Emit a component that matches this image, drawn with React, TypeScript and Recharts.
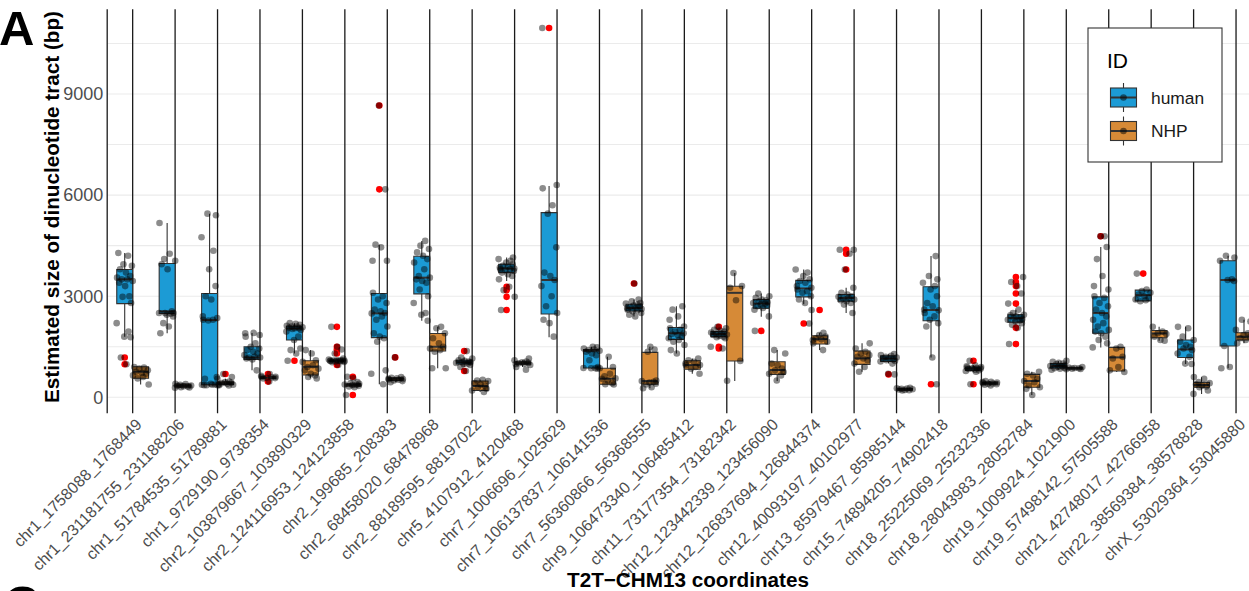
import { ComposedChart, XAxis, YAxis, CartesianGrid, Scatter, ReferenceArea, ReferenceLine } from "recharts";

// T2T-CHM13 loci, in plot order
const categories = [
  "chr1_1758088_1768449",
  "chr1_231181755_231188206",
  "chr1_51784535_51789881",
  "chr1_9729190_9738354",
  "chr2_103879667_103890329",
  "chr2_124116953_124123858",
  "chr2_199685_208383",
  "chr2_68458020_68478968",
  "chr2_88189595_88197022",
  "chr5_4107912_4120468",
  "chr7_1006696_1025629",
  "chr7_106137837_106141536",
  "chr7_56360866_56368555",
  "chr9_106473340_106485412",
  "chr11_73177354_73182342",
  "chr12_123442339_123456090",
  "chr12_126837694_126844374",
  "chr12_40093197_40102977",
  "chr13_85979467_85985144",
  "chr15_74894205_74902418",
  "chr18_25225069_25232336",
  "chr18_28043983_28052784",
  "chr19_1009924_1021900",
  "chr19_57498142_57505588",
  "chr21_42748017_42766958",
  "chr22_38569384_38578828",
  "chrX_53029364_53045880",
];

type Stats = [number, number, number, number, number] | null; // lower whisker, q1, median, q3, upper whisker

const humanStats: Stats[] = [
  [1800, 2780, 3500, 3790, 4280],
  [1900, 2490, 2550, 3970, 5170],
  [360, 370, 2290, 3080, 5450],
  [800, 1125, 1180, 1500, 1910],
  [1300, 1700, 2040, 2110, 2200],
  [1040, 1070, 1086, 1100, 1150],
  [385, 1770, 2490, 3080, 4530],
  [2270, 3070, 3550, 4185, 4640],
  [900, 990, 1040, 1100, 1180],
  [3450, 3700, 3820, 3950, 4150],
  [1780, 2470, 3480, 5480, 6270],
  [850, 870, 1380, 1420, 1500],
  [2400, 2560, 2650, 2760, 2900],
  [1300, 1720, 1900, 2070, 2700],
  [1750, 1800, 1880, 1950, 2050],
  [2390, 2640, 2780, 2900, 3080],
  [2760, 2980, 3230, 3470, 3790],
  [2500, 2850, 2950, 3050, 3250],
  [1000, 1060, 1150, 1230, 1280],
  [1180, 2270, 2590, 3280, 4190],
  [760, 800, 850, 900, 950],
  [2100, 2230, 2350, 2450, 2600],
  [820, 870, 930, 1000, 1080],
  [1480, 1900, 2500, 2980, 4460],
  [2850, 2860, 3030, 3180, 3200],
  [990, 1180, 1420, 1700, 2090],
  [860, 1520, 3480, 4050, 4200],
];

const nhpStats: Stats[] = [
  [380, 563, 760, 908, 910],
  [280, 300, 340, 390, 400],
  [350, 380, 420, 460, 550],
  [540, 560, 590, 610, 640],
  [563, 661, 908, 1086, 1400],
  [280, 330, 370, 400, 450],
  [450, 500, 550, 580, 600],
  [860, 1372, 1500, 1895, 2090],
  [160, 200, 335, 484, 520],
  [900, 980, 1010, 1050, 1100],
  null,
  [380, 385, 553, 860, 1200],
  [270, 385, 484, 1332, 1500],
  [700, 830, 957, 1086, 1150],
  [484, 1076, 3100, 3297, 3690],
  [484, 681, 810, 1056, 1400],
  [1400, 1580, 1727, 1826, 1915],
  [760, 977, 1155, 1372, 1600],
  [200, 210, 240, 260, 280],
  null,
  [350, 390, 420, 450, 480],
  [70, 296, 484, 681, 760],
  [830, 840, 860, 880, 900],
  [750, 780, 1184, 1480, 1500],
  [1680, 1767, 1895, 1984, 2090],
  [100, 296, 365, 444, 592],
  [1600, 1698, 1796, 1915, 2300],
];

const humanOutliers: number[][] = [
  [1180, 980], [], [], [], [1085], [2090, 1500, 1420, 1300, 960], [8660, 6170], [],
  [1370, 780], [3280, 3180, 2980, 2590], [10960], [], [3375], [], [2090, 1500, 1450],
  [1970], [2190], [4380, 4260, 3790], [680], [385], [1086, 385],
  [3570, 3420, 3300, 3080, 2780, 2060, 1580], [], [4780], [3670], [], [],
];

const nhpOutliers: number[][] = [
  [], [], [690], [690, 465], [], [610, 70], [1184], [], [], [], [], [], [], [], [],
  [], [2590], [], [], [], [], [], [], [], [], [], [],
];

const humanPoints: number[][] = [
  [4280, 4200, 3950, 3900, 3800, 3700, 3600, 3550, 3500, 3500, 3450, 3400, 3300, 3000, 2980, 2800, 2200, 1950, 1800, 1780, 1180, 980],
  [5170, 4260, 4100, 4050, 3950, 3800, 2550, 2500, 2500, 2500, 2480, 2450, 2400, 2200, 2100, 1900],
  [5450, 5400, 4750, 4350, 3800, 3300, 3000, 2900, 2400, 2350, 2300, 2300, 2280, 600, 550, 400, 380, 370, 370, 360, 360, 360],
  [1910, 1900, 1850, 1800, 1600, 1500, 1450, 1400, 1350, 1300, 1250, 1200, 1180, 1180, 1150, 1120, 800],
  [2200, 2180, 2150, 2120, 2100, 2100, 2080, 2060, 2050, 2050, 2030, 2000, 1950, 1800, 1700, 1450, 1400, 1300, 1085],
  [2090, 1500, 1420, 1300, 1150, 1120, 1100, 1100, 1090, 1090, 1086, 1086, 1080, 1080, 1070, 1060, 1050, 1040, 960],
  [8660, 6170, 4530, 4450, 4050, 4050, 3100, 3000, 2900, 2800, 2600, 2550, 2500, 2490, 2400, 2300, 2100, 1900, 1800, 1750, 1650, 800, 700, 385],
  [4640, 4500, 4400, 4300, 4200, 4100, 4000, 3800, 3600, 3550, 3500, 3450, 3400, 3200, 3000, 2800, 2500, 2450, 2270],
  [1370, 1180, 1150, 1100, 1080, 1060, 1040, 1040, 1020, 1000, 980, 960, 900, 780],
  [4150, 4100, 4050, 4000, 3950, 3900, 3880, 3850, 3820, 3800, 3800, 3780, 3750, 3700, 3650, 3600, 3500, 3280, 3180, 2980, 2590],
  [10960, 6300, 6200, 5700, 5450, 4450, 3700, 3600, 3480, 3300, 3000, 2700, 2500, 2300, 2200, 1800],
  [1500, 1480, 1450, 1420, 1400, 1380, 1350, 1300, 1250, 1100, 900, 870, 860, 860, 850],
  [3375, 2900, 2850, 2800, 2780, 2750, 2720, 2700, 2680, 2650, 2650, 2620, 2600, 2580, 2550, 2500, 2450, 2400],
  [2700, 2600, 2400, 2300, 2100, 2050, 2000, 1950, 1900, 1880, 1850, 1800, 1750, 1700, 1650, 1550, 1400, 1300],
  [2090, 2050, 2000, 1980, 1950, 1920, 1900, 1880, 1860, 1850, 1820, 1800, 1780, 1750, 1500, 1450],
  [3080, 3000, 2950, 2900, 2880, 2850, 2820, 2800, 2780, 2750, 2720, 2700, 2650, 2600, 2400, 1970],
  [3790, 3700, 3600, 3500, 3450, 3400, 3300, 3250, 3200, 3150, 3100, 3000, 2900, 2800, 2190],
  [4380, 4380, 4260, 3790, 3250, 3100, 3050, 3000, 2980, 2950, 2930, 2900, 2880, 2850, 2800, 2750, 2500],
  [1280, 1250, 1230, 1200, 1180, 1150, 1150, 1120, 1100, 1080, 1060, 1000, 700, 680],
  [4190, 3600, 3500, 3400, 3300, 3200, 3000, 2800, 2700, 2600, 2580, 2500, 2400, 2300, 2200, 2100, 1180, 385],
  [1086, 950, 920, 900, 880, 870, 860, 850, 840, 820, 800, 780, 760, 385],
  [3570, 3420, 3300, 3080, 2780, 2600, 2500, 2450, 2430, 2400, 2380, 2350, 2320, 2300, 2280, 2250, 2200, 2150, 2060, 1580],
  [1080, 1050, 1020, 1000, 980, 950, 930, 920, 900, 880, 860, 850, 820],
  [4780, 4780, 4460, 4100, 3600, 3300, 3200, 3000, 2950, 2800, 2700, 2600, 2500, 2400, 2300, 2200, 2100, 2000, 1950, 1900, 1800, 1700, 1600, 1480],
  [3670, 3200, 3150, 3100, 3050, 3000, 2950, 2900, 2880, 2850],
  [2090, 2050, 1800, 1700, 1650, 1550, 1500, 1450, 1400, 1300, 1200, 1000, 990],
  [4200, 4150, 4050, 3500, 3480, 3450, 1520, 900, 860],
];

const nhpPoints: number[][] = [
  [900, 880, 850, 800, 760, 720, 700, 650, 600, 560, 380],
  [400, 390, 370, 350, 340, 330, 320, 300, 290, 280],
  [690, 600, 550, 470, 450, 430, 420, 400, 380, 370, 360, 350],
  [690, 640, 610, 600, 590, 580, 570, 560, 465],
  [1400, 1300, 1100, 1050, 950, 900, 850, 800, 700, 650, 600, 560],
  [610, 560, 450, 420, 400, 380, 370, 360, 340, 320, 300, 70],
  [1184, 600, 580, 560, 550, 540, 530, 520, 500, 480, 450],
  [2090, 2050, 1900, 1750, 1600, 1500, 1450, 1400, 1350, 860, 860],
  [520, 500, 480, 420, 380, 340, 300, 250, 200, 160],
  [1150, 1100, 1060, 1040, 1020, 1010, 1000, 990, 960, 900, 820],
  [],
  [1200, 900, 860, 700, 620, 560, 550, 500, 420, 390, 380],
  [1500, 1420, 1350, 500, 480, 460, 440, 400, 380, 300, 270],
  [1150, 1100, 1050, 1000, 960, 950, 900, 850, 700],
  [3690, 3300, 3250, 2880, 1080, 490],
  [1400, 1300, 1000, 950, 850, 800, 750, 700, 650, 500],
  [2590, 1915, 1850, 1800, 1750, 1720, 1700, 1650, 1600, 1400],
  [1600, 1450, 1350, 1300, 1250, 1200, 1150, 1100, 1000, 900, 760],
  [280, 270, 260, 250, 240, 230, 220, 210, 200],
  [],
  [480, 460, 450, 440, 420, 410, 400, 390, 370, 350],
  [760, 700, 650, 550, 480, 450, 350, 300, 250, 70],
  [900, 880, 870, 860, 850, 840, 830],
  [1500, 1450, 1200, 1150, 900, 800, 750],
  [2090, 1950, 1900, 1880, 1800, 1700, 1680],
  [600, 550, 450, 420, 380, 350, 320, 300, 200, 100],
  [2300, 2250, 2000, 1900, 1850, 1800, 1750, 1700, 1600],
];

const yTicks = [0, 3000, 6000, 9000];
const gridValues = [0, 1500, 3000, 4500, 6000, 7500, 9000, 10500];

const HUMAN_FILL = "#1c9bd5";
const NHP_FILL = "#d68a37";
const BOX_W = 0.375;
// fixed horizontal jitter pattern (in category units)
const JITTER = [-0.15, 0.08, -0.03, 0.17, -0.11, 0.03, 0.13, -0.18, 0.06, -0.07, 0.19, -0.13, 0.01, 0.11, -0.05, 0.15, -0.19, 0.09, -0.01, 0.14, -0.09, 0.04, -0.16, 0.18];

const groups = [
  { name: "human", stats: humanStats, points: humanPoints, outliers: humanOutliers, fill: HUMAN_FILL, side: -1 },
  { name: "NHP", stats: nhpStats, points: nhpPoints, outliers: nhpOutliers, fill: NHP_FILL, side: 1 },
];

const center = (i: number, side: number) => i + 1 + (side * BOX_W) / 2;

const pointData: { x: number; y: number }[] = [];
const outlierData: { x: number; y: number }[] = [];
groups.forEach((g) => {
  g.points.forEach((vals, i) =>
    vals.forEach((v, j) => pointData.push({ x: center(i, g.side) + JITTER[(j + i * 7) % JITTER.length], y: v }))
  );
  g.outliers.forEach((vals, i) => vals.forEach((v) => outlierData.push({ x: center(i, g.side), y: v })));
});

const FONT = "'Liberation Sans', Arial, Helvetica, sans-serif";

const XTick = ({ x, y, payload }: any) => {
  const label = categories[Math.round(payload.value) - 1];
  const ax = x + 2;
  const ay = y + 4;
  return (
    <text x={ax} y={ay} transform={`rotate(-45 ${ax} ${ay})`} textAnchor="end" dy="0.72em" fontSize={16} fill="#4d4d4d" fontFamily={FONT}>
      {label}
    </text>
  );
};

const Dot = (color: string) => (props: any) => <circle cx={props.cx} cy={props.cy} r={3.3} fill={color} />;

const LegendKey = ({ y, fill }: { y: number; fill: string }) => (
  <g>
    <line x1={1123.5} x2={1123.5} y1={y - 14.5} y2={y + 14.5} stroke="#333" strokeWidth={1.1} />
    <rect x={1110.5} y={y - 9.5} width={26} height={19} fill={fill} stroke="#333" strokeWidth={1.1} />
    <line x1={1110.5} x2={1136.5} y1={y} y2={y} stroke="#333" strokeWidth={2} />
    <circle cx={1123.5} cy={y} r={3.3} fill="rgba(0,0,0,0.5)" />
  </g>
);

export default function App() {
  const boxes: any[] = [];
  const lines: any[] = [];
  groups.forEach((g) =>
    g.stats.forEach((s, i) => {
      if (!s) return;
      const [lo, q1, med, q3, hi] = s;
      const c = center(i, g.side);
      const x1 = c - BOX_W / 2;
      const x2 = c + BOX_W / 2;
      lines.push(
        <ReferenceLine key={`wu-${g.name}-${i}`} segment={[{ x: c, y: q3 }, { x: c, y: hi }]} stroke="#333" strokeWidth={1.1} />,
        <ReferenceLine key={`wl-${g.name}-${i}`} segment={[{ x: c, y: lo }, { x: c, y: q1 }]} stroke="#333" strokeWidth={1.1} />
      );
      boxes.push(
        <ReferenceArea key={`b-${g.name}-${i}`} x1={x1} x2={x2} y1={q1} y2={q3} fill={g.fill} fillOpacity={1} stroke="#333" strokeWidth={1.1} strokeOpacity={1} />
      );
      boxes.push(
        <ReferenceLine key={`m-${g.name}-${i}`} segment={[{ x: x1, y: med }, { x: x2, y: med }]} stroke="#333" strokeWidth={2} />
      );
    })
  );

  return (
    <div style={{ position: "fixed", left: 0, top: 0, width: 1249, height: 591, overflow: "hidden", background: "#fff" }}>
      <ComposedChart width={1270} height={591} margin={{ top: 9.3, right: 8.5, bottom: 7.7, left: 47.2 }}>
        <CartesianGrid vertical={false} horizontalValues={gridValues} stroke="#ebebeb" strokeWidth={1.1} />
        <CartesianGrid horizontal={false} stroke="#1a1a1a" strokeWidth={1.3} />
        <XAxis
          type="number"
          dataKey="x"
          domain={[0.4, 27.6]}
          ticks={categories.map((_, i) => i + 1)}
          interval={0}
          allowDataOverflow
          axisLine={false}
          tickLine={false}
          tickSize={0}
          tickMargin={0}
          height={170}
          tick={<XTick />}
        />
        <YAxis
          type="number"
          dataKey="y"
          domain={[-475, 11513]}
          ticks={yTicks}
          allowDataOverflow
          axisLine={false}
          tickLine={false}
          tickSize={0}
          tickMargin={4}
          width={60}
          tick={{ fontSize: 18, fill: "#4d4d4d", fontFamily: FONT }}
        />
        {lines}
        {boxes}
        <Scatter data={outlierData} shape={Dot("#ff0000")} isAnimationActive={false} />
        <Scatter data={pointData} shape={Dot("rgba(0,0,0,0.45)")} isAnimationActive={false} />
      </ComposedChart>
      <svg width={1249} height={591} style={{ position: "absolute", left: 0, top: 0, pointerEvents: "none" }} fontFamily={FONT}>
        <text x={-1} y={45} fontSize={49} fontWeight="bold" fill="#000">A</text>
        <text x={4} y={620} fontSize={49} fontWeight="bold" fill="#000">C</text>
        <text transform="translate(58.5 207) rotate(-90)" textAnchor="middle" fontSize={20.7} fontWeight="bold" fill="#000">
          Estimated size of dinucleotide tract (bp)
        </text>
        <text x={688} y={587} textAnchor="middle" fontSize={20.7} fontWeight="bold" fill="#000">
          T2T−CHM13 coordinates
        </text>
        <rect x={1088} y={28} width={134} height={134} fill="#fff" stroke="#333" strokeWidth={1.1} />
        <text x={1107} y={68} fontSize={21} fill="#000">ID</text>
        <LegendKey y={97.5} fill={HUMAN_FILL} />
        <LegendKey y={131} fill={NHP_FILL} />
        <text x={1151} y={103.5} fontSize={17.4} fill="#1a1a1a">human</text>
        <text x={1151} y={137} fontSize={17.4} fill="#1a1a1a">NHP</text>
      </svg>
    </div>
  );
}
